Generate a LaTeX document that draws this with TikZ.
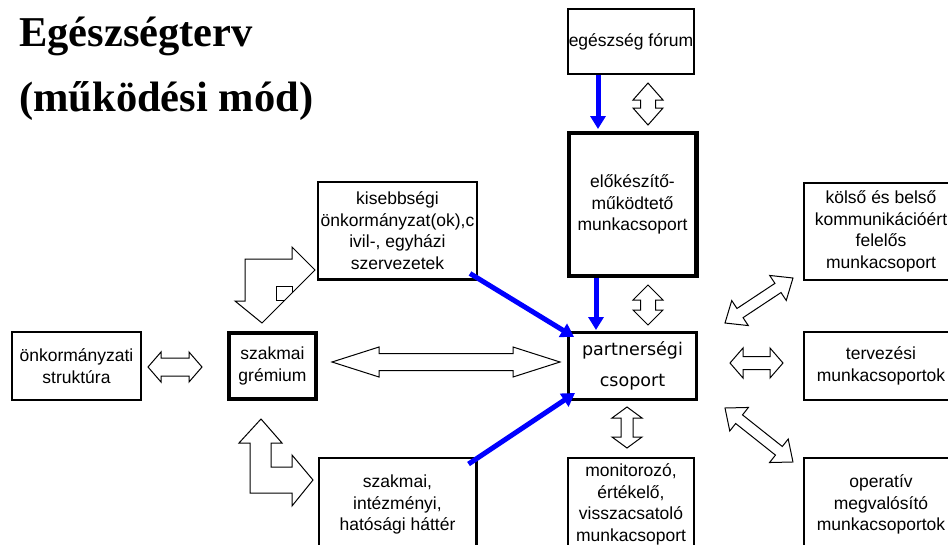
\documentclass[tikz,border=0pt]{standalone}
\usepackage{fontspec}
\setmainfont{Liberation Sans}
\newfontfamily\TitleFont{Liberation Serif}
\newfontfamily\PartnerFont{DejaVu Sans}
\usepackage{tikz}
\usetikzlibrary{arrows.meta,positioning,calc}
\tikzstyle{WorkGroupNode} =[draw,line width=2.2pt,inner sep=0pt,align=center,font=\fontsize{17.5}{21.5}\selectfont]
\tikzstyle{CoreGroupNode} =[WorkGroupNode,line width=4.2pt]
\tikzstyle{PartnerNode} =[WorkGroupNode,line width=3.2pt,font=\PartnerFont\fontsize{17.5}{31}\selectfont]
\tikzstyle{TitleText} =[anchor=base west,inner sep=0pt,font=\TitleFont\bfseries\fontsize{42.5}{51}\selectfont]
\tikzstyle{BlueFlow} =[-{Triangle[length=13pt,width=15pt]},draw=blue,line width=5pt]
\tikzstyle{BentBlock} =[draw,line width=1pt]
% open double arrow between two points: #1 head length, #2 half shaft width
\tikzset{OpenArrow/.style 2 args={draw,line width=1pt,to path={
    let \p1=(\tikztostart), \p2=(\tikztotarget),
        \n1={atan2(\y2-\y1,\x2-\x1)}, \n2={veclen(\x2-\x1,\y2-\y1)} in
    [shift={(\p1)},rotate=\n1]
    (0pt,0pt) -- (#1pt,15pt) -- (#1pt,#2pt) -- (\n2-#1pt,#2pt) -- (\n2-#1pt,15pt) -- (\n2,0pt)
    -- (\n2-#1pt,-15pt) -- (\n2-#1pt,-#2pt) -- (#1pt,-#2pt) -- (#1pt,-15pt) -- cycle}}}

\begin{document}
\begin{tikzpicture}[x=1pt,y=-1pt,on grid]
    \useasboundingbox (0,0) rectangle (948,544);

    \node[TitleText](Title-Line-1) at (19,46){Egészségterv};
    \node[TitleText](Title-Line-2) at (19,111){(működési mód)};

    \node[PartnerNode,minimum width=127.8pt,minimum height=66.8pt](Partnership-Group) at (632.5,366){partnerségi\\csoport};
    \node[CoreGroupNode,minimum width=127.8pt,minimum height=142.8pt,above=161.5pt of Partnership-Group](Preparing-Group){előkészítő-\\működtető\\munkacsoport};
    \node[WorkGroupNode,minimum width=125.8pt,minimum height=64.8pt,above=163pt of Preparing-Group,xshift=-1.5pt](Health-Forum){egészség fórum};
    \node[WorkGroupNode,minimum width=125.8pt,minimum height=92.8pt,below=138.5pt of Partnership-Group,xshift=-1.5pt](Monitoring-Group){monitorozó,\\értékelő,\\visszacsatoló\\munkacsoport};

    \node[WorkGroupNode,minimum width=153.8pt,minimum height=67.8pt,right=248.5pt of Partnership-Group](Planning-Groups){tervezési\\munkacsoportok};
    \node[WorkGroupNode,minimum width=153.8pt,minimum height=96.8pt,above=134.5pt of Planning-Groups](Communication-Group){kölső és belső\\kommunikációért\\felelős\\munkacsoport};
    \node[WorkGroupNode,minimum width=153.8pt,minimum height=92.8pt,below=138.5pt of Planning-Groups](Operative-Groups){operatív\\megvalósító\\munkacsoportok};

    \node[CoreGroupNode,minimum width=87pt,minimum height=66pt,left=360pt of Partnership-Group](Expert-Board){szakmai\\grémium};
    \node[WorkGroupNode,minimum width=128.8pt,minimum height=67.8pt,left=196pt of Expert-Board](Municipal-Structure){önkormányzati\\struktúra};
    \node[WorkGroupNode,minimum width=158.8pt,minimum height=97.8pt](Minority-Civil) at (397.5,230.5){kisebbségi\\önkormányzat(ok),c\\ivil-, egyházi\\szervezetek};
    \node[WorkGroupNode,minimum width=157.8pt,minimum height=92.8pt,below=274pt of Minority-Civil](Professional-Background){szakmai,\\intézményi,\\hatósági háttér};

    \coordinate (Forum-Arrow-Top) at (648,83);
    \coordinate (Forum-Arrow-Bottom) at (648,125);
    \coordinate (Preparing-Arrow-Top) at (648,285);
    \coordinate (Preparing-Arrow-Bottom) at (648,325);
    \coordinate (Monitoring-Arrow-Top) at (627,407);
    \coordinate (Monitoring-Arrow-Bottom) at (627,448);
    \coordinate (Municipal-Arrow-Left) at (148,367);
    \coordinate (Municipal-Arrow-Right) at (202,367);
    \coordinate (Board-Arrow-Left) at (332,362);
    \coordinate (Board-Arrow-Right) at (560,362);
    \coordinate (Planning-Arrow-Left) at (730,363);
    \coordinate (Planning-Arrow-Right) at (783,363);
    \coordinate (Communication-Arrow-Left) at (725,323);
    \coordinate (Communication-Arrow-Right) at (793,278);
    \coordinate (Operative-Arrow-Left) at (725,408);
    \coordinate (Operative-Arrow-Right) at (793,462);

    \draw[OpenArrow={17}{7.5}] (Forum-Arrow-Top) to (Forum-Arrow-Bottom);
    \draw[OpenArrow={15}{7.5}] (Preparing-Arrow-Top) to (Preparing-Arrow-Bottom);
    \draw[OpenArrow={11}{6}] (Monitoring-Arrow-Top) to (Monitoring-Arrow-Bottom);
    \draw[OpenArrow={13}{9}] (Municipal-Arrow-Left) to (Municipal-Arrow-Right);
    \draw[OpenArrow={47}{8.5}] (Board-Arrow-Left) to (Board-Arrow-Right);
    \draw[OpenArrow={13}{6.5}] (Planning-Arrow-Left) to (Planning-Arrow-Right);
    \draw[OpenArrow={18}{5.5}] (Communication-Arrow-Left) to (Communication-Arrow-Right);
    \draw[OpenArrow={18}{5.5}] (Operative-Arrow-Left) to (Operative-Arrow-Right);

    % bent arrows at the expert board
    \draw[BentBlock] (245,259) -- (292,259) -- (292,247) -- (315,270) -- (262,323) -- (235,301) -- (245,301) -- cycle;
    \draw[BentBlock] (292,293) -- (292,286) -- (276,286) -- (276,300) -- (285,300);
    \draw[BentBlock] (250,443) -- (239,443) -- (261,419) -- (282,443) -- (271,443) -- (271,467) -- (292,467) -- (292,455) -- (313,480) -- (292,506) -- (292,493) -- (250,493) -- cycle;

    \draw[BlueFlow] ([xshift=-33pt]Health-Forum.south) -- ([xshift=-34.5pt,yshift=2pt]Preparing-Group.north);
    \draw[BlueFlow] ([xshift=-36.5pt]Preparing-Group.south) -- ([xshift=-36.5pt,yshift=1pt]Partnership-Group.north);
    \draw[BlueFlow] ([xshift=-8pt,yshift=7pt]Minority-Civil.south east) -- ([xshift=7pt,yshift=-6pt]Partnership-Group.north west);
    \draw[BlueFlow] ([xshift=-9pt,yshift=-7pt]Professional-Background.north east) -- ([xshift=8pt,yshift=8pt]Partnership-Group.south west);
\end{tikzpicture}
\end{document}
